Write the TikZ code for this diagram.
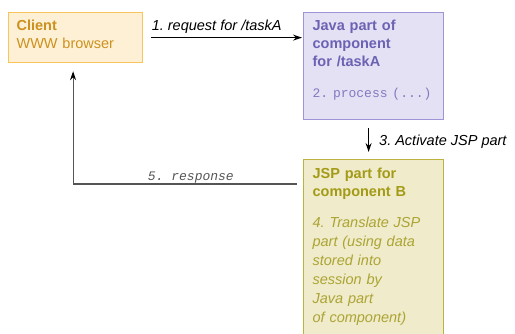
\documentclass[tikz,border=0pt]{standalone}
\usepackage{fontspec}
\setmainfont{Liberation Sans}
\setmonofont{Liberation Mono}
\usepackage{tikz}
\usetikzlibrary{arrows.meta, calc}
\frenchspacing

\definecolor{clfill}{RGB}{254, 240, 212}
\definecolor{cldraw}{RGB}{248, 196, 92}
\definecolor{cltext}{RGB}{204, 145, 30}
\definecolor{jvfill}{RGB}{228, 225, 244}
\definecolor{jvdraw}{RGB}{157, 149, 214}
\definecolor{jvtext}{RGB}{108, 98, 180}
\definecolor{jsfill}{RGB}{239, 235, 203}
\definecolor{jsdraw}{RGB}{188, 178, 64}
\definecolor{jstext}{RGB}{163, 155, 22}
\definecolor{jsbody}{RGB}{172, 164, 50}
\definecolor{linegray}{RGB}{85, 85, 85}

\begin{document}
\begin{tikzpicture}[x=1pt, y=-1pt,
    box/.style={draw, line width=1.2pt, anchor=north west, align=left,
                inner xsep=9pt, inner ysep=0pt, text width=122pt},
    msg/.style={font=\fontsize{14.5}{18}\selectfont\itshape, inner sep=0pt},
    arr/.style={line width=1.2pt, -{Stealth[length=9pt, width=6pt, color=black]}}]
  \useasboundingbox (0,0) rectangle (515,333);
  \clip (0,0) rectangle (515,333);
  % boxes
  \node[box, draw=cldraw, fill=clfill, text=cltext, text width=118pt, inner xsep=8pt,
        text height=18pt, text depth=32pt, font=\fontsize{14.5}{18}\selectfont]
        (client) at (8,12) {\textbf{Client}\\WWW browser};
  \node[box, draw=jvdraw, fill=jvfill, text=jvtext,
        text height=18pt, text depth=89pt, font=\fontsize{14.5}{18}\selectfont]
        (java) at (303,12) {\textbf{Java part of}\\\textbf{component}\\\textbf{for /taskA}\\[13pt]%
        {\ttfamily\fontsize{13}{18}\selectfont\color{jvtext!85}2. process (...)}};
  \node[box, draw=jsdraw, fill=jsfill, text=jstext,
        text height=19pt, text depth=170pt, font=\fontsize{14.5}{19}\selectfont]
        (jsp) at (303,159) {\textbf{JSP part for}\\[-1pt]\textbf{component B}\\[12pt]%
        {\color{jsbody}\itshape 4. Translate JSP\\part (using data\\stored into\\session by\\Java part\\of component)}};
  % connectors
  \draw[arr, shorten <=8pt, shorten >=1pt] (client.east) -- (client.east -| java.west)
    node[msg, pos=0, anchor=base west, xshift=8pt, yshift=7pt] (req) {1. request for /taskA};
  \draw[arr, shorten <=8pt, shorten >=7pt] ([xshift=-5pt]java.south) -- ([xshift=-5pt]java.south |- jsp.north)
    node[msg, pos=0.65, anchor=base west, xshift=10pt] (act) {3. Activate JSP part};
  \draw[arr, linegray, shorten >=8pt] ([xshift=-6pt, yshift=-25pt]jsp.north west) -| ([xshift=-2.5pt]client.south)
    node[pos=0.237, anchor=base, inner sep=0pt, yshift=4pt,
         font=\fontsize{13}{16}\selectfont\ttfamily\itshape] (resp) {5. response};
\end{tikzpicture}
\end{document}
